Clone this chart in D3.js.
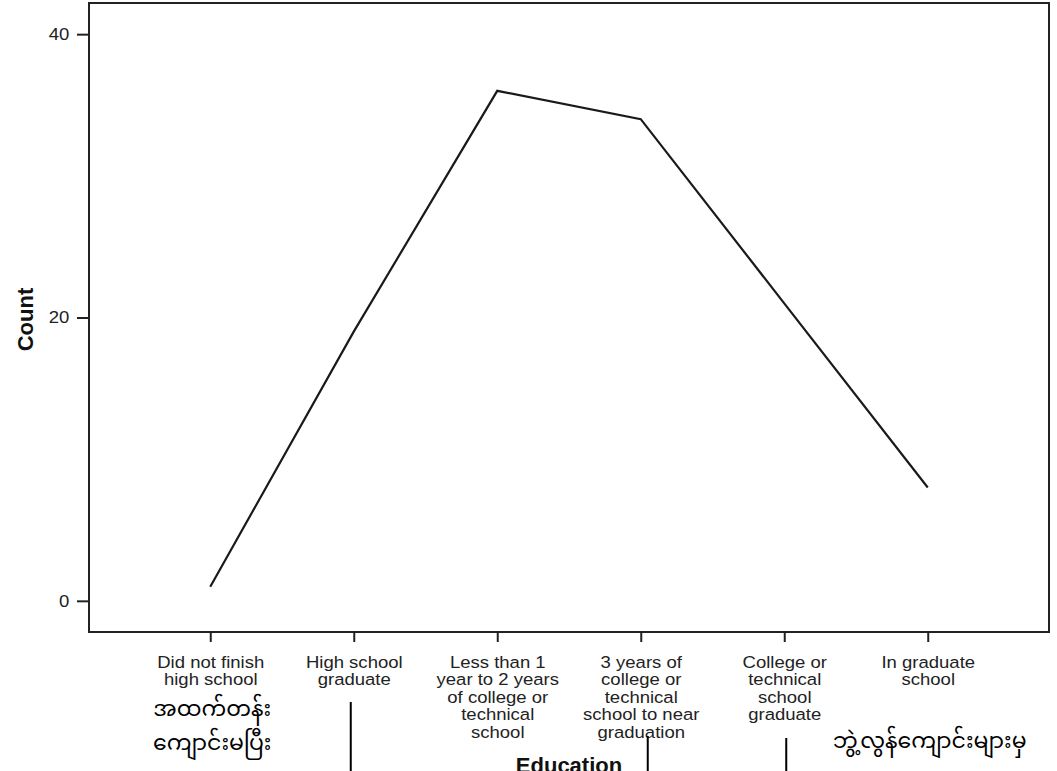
<!DOCTYPE html>
<html>
<head>
<meta charset="utf-8">
<script src="https://cdn.jsdelivr.net/npm/d3@7"></script>
<style>
  body { margin: 0; background: #fff; }
  svg { display: block; }
  .tick text { font-family: "Liberation Sans", Arial, sans-serif; fill: #222; }
</style>
</head>
<body>
<div id="chart"></div>
<script>
// data
var categories = ["cat1", "cat2", "cat3", "cat4", "cat5", "cat6"];
var tickLabels = [
  ["Did not finish", "high school"],
  ["High school", "graduate"],
  ["Less than 1", "year to 2 years", "of college or", "technical", "school"],
  ["3 years of", "college or", "technical", "school to near", "graduation"],
  ["College or", "technical", "school", "graduate"],
  ["In graduate", "school"]
];
var counts = [1, 19, 36, 34, 21, 8];
var yTicks = [0, 20, 40];

// handwritten style notes under the axis (Myanmar)
var notes = [
  { cat: "cat1", lines: ["အထက်တန်း", "ကျောင်းမပြီး"] },
  { cat: "cat6", lines: ["ဘွဲ့လွန်ကျောင်းများမှ"] }
];
var markerCats = ["cat2", "cat4", "cat5"];

var svgWidth = 1057;
var svgHeight = 771;
var margin = { top: 3, right: 8, bottom: 139, left: 89 };
var chartWidth = svgWidth - margin.left - margin.right;
var chartHeight = svgHeight - margin.top - margin.bottom;

var svg = d3.select("#chart")
  .append("svg")
  .attr("width", svgWidth)
  .attr("height", svgHeight);

var chartGroup = svg.append("g")
  .attr("transform", `translate(${margin.left}, ${margin.top})`);

// scales
var xScale = d3.scalePoint()
  .domain(categories)
  .range([0, chartWidth])
  .padding(0.845);

var yScale = d3.scaleLinear()
  .domain([-2.2, 42.2])
  .range([chartHeight, 0]);

// frame
chartGroup.append("rect")
  .attr("x", 0)
  .attr("y", 0)
  .attr("width", chartWidth)
  .attr("height", chartHeight)
  .attr("fill", "none")
  .attr("stroke", "#222")
  .attr("stroke-width", 2);

// y axis
var leftAxis = d3.axisLeft(yScale)
  .tickValues(yTicks)
  .tickSize(12)
  .tickPadding(6)
  .tickFormat(d3.format("d"));

var yAxisG = chartGroup.append("g").call(leftAxis);
yAxisG.select(".domain").remove();
yAxisG.selectAll(".tick line").attr("stroke", "#222").attr("stroke-width", 2);
yAxisG.selectAll(".tick text")
  .attr("font-size", 17)
  .attr("transform", "scale(1.09,1)");

// x axis
var bottomAxis = d3.axisBottom(xScale)
  .tickSize(10)
  .tickFormat("");

var xAxisG = chartGroup.append("g")
  .attr("transform", `translate(0, ${chartHeight})`)
  .call(bottomAxis);
xAxisG.select(".domain").remove();
xAxisG.selectAll(".tick line").attr("stroke", "#222").attr("stroke-width", 2);

xAxisG.selectAll(".tick").each(function(d, i) {
  var t = d3.select(this).select("text")
    .attr("y", 0)
    .attr("dy", null)
    .attr("font-size", 17)
    .attr("text-anchor", "middle")
    .attr("transform", "scale(1.09,1)");
  tickLabels[i].forEach(function(line, j) {
    t.append("tspan")
      .attr("x", 0)
      .attr("y", 36 + j * 17.5)
      .text(line);
  });
});

// line
var line = d3.line()
  .x((d, i) => xScale(categories[i]))
  .y(d => yScale(d));

chartGroup.append("path")
  .datum(counts)
  .attr("d", line)
  .attr("fill", "none")
  .attr("stroke", "#1a1a1a")
  .attr("stroke-width", 2.2)
  .attr("stroke-linejoin", "miter");

// axis titles
chartGroup.append("text")
  .attr("transform", "rotate(-90)")
  .attr("x", -(yScale(20) + 2))
  .attr("y", -56)
  .attr("text-anchor", "middle")
  .attr("font-family", "Liberation Sans, Arial, sans-serif")
  .attr("font-weight", "bold")
  .attr("font-size", 22)
  .attr("fill", "#111")
  .text("Count");

chartGroup.append("text")
  .attr("x", chartWidth / 2)
  .attr("y", chartHeight + 141)
  .attr("text-anchor", "middle")
  .attr("font-family", "Liberation Sans, Arial, sans-serif")
  .attr("font-weight", "bold")
  .attr("font-size", 22)
  .attr("fill", "#111")
  .text("Education");

// annotation marks
var markerOffsets = [-3, 7, 2];
var markerTops = [702, 736, 738];
markerCats.forEach(function(c, i) {
  chartGroup.append("line")
    .attr("x1", xScale(c) + markerOffsets[i])
    .attr("x2", xScale(c) + markerOffsets[i])
    .attr("y1", markerTops[i] - margin.top)
    .attr("y2", svgHeight - margin.top)
    .attr("stroke", "#000")
    .attr("stroke-width", 2);
});

var noteBase = [716, 748];
notes.forEach(function(n, k) {
  var t = chartGroup.append("text")
    .attr("text-anchor", "middle")
    .attr("font-family", "'Noto Sans Myanmar', Padauk, 'Myanmar Text', 'Myanmar3', sans-serif")
    .attr("font-size", 22)
    .attr("fill", "#000");
  n.lines.forEach(function(l, j) {
    t.append("tspan")
      .attr("x", xScale(n.cat) + 2)
      .attr("y", (k === 0 ? noteBase[0] + j * 34 : noteBase[1]) - margin.top)
      .text(l);
  });
});
</script>
</body>
</html>
